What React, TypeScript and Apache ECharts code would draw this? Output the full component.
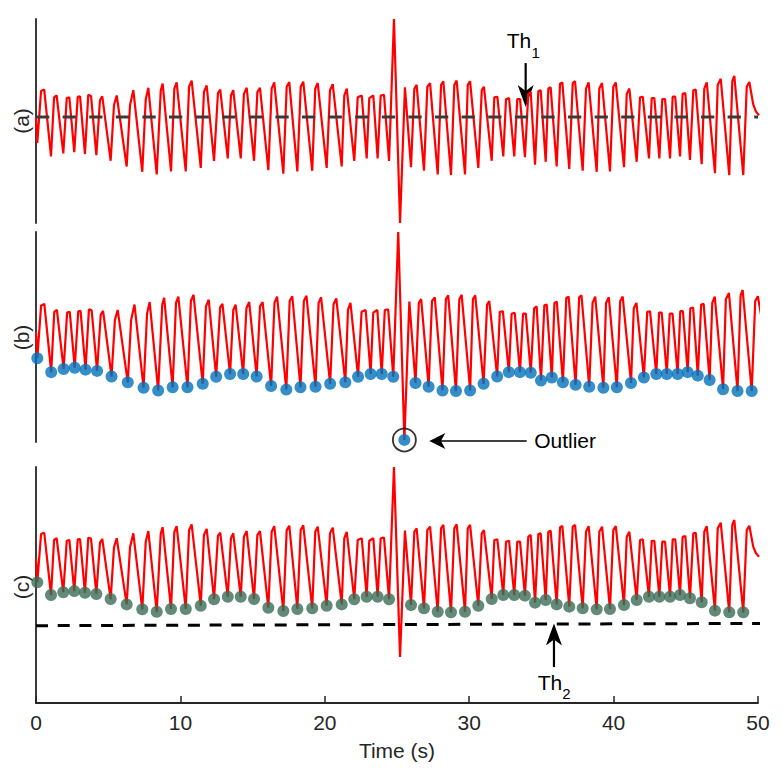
import React, { useEffect, useRef } from "react";
import * as echarts from "echarts";

// ---------------- data ----------------
const xTicks = [0, 10, 20, 30, 40, 50];
const panelLabels = ["(a)", "(b)", "(c)"];

// signal start point
const startT = [0];
const startV = [52];

// pulse feet (minima)
const troughT = [0.09, 1.04, 1.89, 2.65, 3.39, 4.18, 5.17, 6.28, 7.36, 8.36, 9.35, 10.37, 11.41, 12.33, 13.28, 14.18, 15.1, 16.09, 17.13, 18.1, 19.13, 20.13, 21.17, 22.04, 22.9, 23.66, 24.45, 25.97, 26.87, 27.82, 28.74, 29.71, 30.63, 31.56, 32.36, 33.12, 33.86, 34.56, 35.3, 36.06, 36.93, 37.86, 38.83, 39.75, 40.72, 41.6, 42.45, 43.17, 43.91, 44.6, 45.29, 46.1, 47.02, 48.01, 48.98];
const troughV = [39.3, 32.6, 34.1, 34.7, 33.8, 33.2, 30.5, 27.7, 25.1, 23.8, 25.3, 25.3, 27.0, 30.4, 31.7, 31.7, 30.5, 25.9, 24.2, 25.3, 25.6, 27.0, 27.7, 30.4, 31.7, 31.7, 30.4, 27.4, 25.6, 23.8, 23.5, 23.8, 27.0, 30.5, 32.6, 32.6, 32.3, 28.6, 30.0, 27.7, 26.5, 25.6, 25.1, 25.3, 27.4, 30.0, 31.7, 31.7, 31.7, 32.6, 30.9, 28.8, 24.4, 23.5, 23.5];

// first top point of each beat (shoulder)
const peakAT = [0.35, 1.25, 2.13, 2.89, 3.62, 4.43, 5.4, 6.51, 7.6, 8.64, 9.58, 10.6, 11.63, 12.6, 13.5, 14.4, 15.33, 16.32, 17.36, 18.33, 19.34, 20.36, 21.35, 22.28, 23.08, 23.87, 26.2, 27.1, 28.05, 28.97, 29.9, 30.87, 31.74, 32.55, 33.33, 34.09, 34.79, 35.48, 36.29, 37.17, 38.09, 39.01, 39.98, 40.91, 41.83, 42.64, 43.37, 44.09, 44.78, 45.52, 46.28, 47.21, 48.22, 49.22];
const peakAV = [64.7, 61.6, 61.2, 61.9, 62.8, 60.2, 57.7, 57.7, 60.7, 65.1, 65.9, 66.8, 64.2, 63.7, 62.5, 63.3, 64.2, 65.9, 66.8, 66.8, 65.9, 65.1, 62.5, 61.6, 61.2, 62.5, 65.9, 66.8, 67.7, 67.7, 67.7, 65.1, 61.6, 60.7, 60.7, 63.3, 64.7, 65.9, 68.3, 68.6, 65.9, 65.9, 66.8, 63.3, 61.6, 61.2, 60.7, 61.9, 63.3, 65.1, 65.9, 67.7, 69.5, 66.8];

// second top point of each beat (peak)
const peakBT = [0.57, 1.43, 2.31, 3.05, 3.81, 4.59, 5.59, 6.74, 7.78, 8.77, 9.74, 10.78, 11.82, 12.76, 13.66, 14.59, 15.51, 16.5, 17.54, 18.51, 19.51, 20.55, 21.52, 22.56, 23.36, 24.1, 26.36, 27.29, 28.21, 29.13, 30.06, 31.02, 31.95, 32.76, 33.52, 34.26, 34.95, 35.64, 36.45, 37.33, 38.27, 39.2, 40.15, 41.09, 42.02, 42.82, 43.56, 44.27, 44.97, 45.69, 46.45, 47.42, 48.36, 49.4];
const peakBV = [65.4, 62.5, 61.6, 62.1, 62.3, 62.1, 62.5, 65.1, 66.3, 68.3, 68.9, 69.8, 67.4, 65.4, 65.1, 66.3, 66.3, 68.9, 69.1, 69.3, 68.6, 68.1, 65.9, 62.5, 62.5, 62.8, 67.7, 68.6, 69.5, 69.8, 69.5, 66.8, 61.9, 61.2, 60.7, 64.2, 65.1, 66.5, 68.9, 69.5, 68.9, 68.6, 68.9, 65.9, 61.9, 61.2, 60.7, 61.9, 63.7, 65.4, 68.9, 70.7, 72.1, 69.1];

// motion artefact (spike); index 1 is the outlier minimum
const spikeT = [24.79, 25.21, 25.55];
const spikeV = [100, 0, 66.5];
const outlierIndex = 1;

// end of the record
const tailT = [49.67, 49.86, 50.07];
const tailV = [58.1, 54.6, 52.8];

// thresholds
const th1T = [0, 50];
const th1V = [52, 52];
const th2T = [0, 50.6];
const th2V = [16.5, 17.7];

// annotation arrows [tailT, tailV, tipT, tipV]
const th1Arrow = [33.91, 78.4, 33.91, 56.9];
const outlierArrow = [33.58, -0.5, 26.92, -0.5];
const th2Arrow = [35.87, -5.3, 35.87, 17.6];

// ---------------- helpers ----------------
const FONT = "'Liberation Sans', Arial, Helvetica, sans-serif";
const AXIS_COLOR = "#262626";
const FS = 21;

function zip(t: number[], v: number[]): number[][] {
  return t.map((x, i) => [x, v[i]]);
}

function buildSignal(): number[][] {
  const pts = [
    ...zip(startT, startV),
    ...zip(troughT, troughV),
    ...zip(peakAT, peakAV),
    ...zip(peakBT, peakBV),
    ...zip(spikeT, spikeV),
    ...zip(tailT, tailV),
  ];
  pts.sort((a, b) => a[0] - b[0]);
  return pts;
}

function arrowEls(p1: number[], p2: number[], headLen: number, headW: number, lw: number) {
  const dx = p2[0] - p1[0];
  const dy = p2[1] - p1[1];
  const len = Math.hypot(dx, dy) || 1;
  const ux = dx / len;
  const uy = dy / len;
  const nx = -uy;
  const ny = ux;
  const bx = p2[0] - ux * headLen;
  const by = p2[1] - uy * headLen;
  const notch = [p2[0] - ux * headLen * 0.72, p2[1] - uy * headLen * 0.72];
  return [
    {
      type: "line",
      silent: true,
      shape: { x1: p1[0], y1: p1[1], x2: notch[0], y2: notch[1] },
      style: { stroke: "#000", lineWidth: lw },
    },
    {
      type: "polygon",
      silent: true,
      shape: {
        points: [
          [p2[0], p2[1]],
          [bx + (nx * headW) / 2, by + (ny * headW) / 2],
          notch,
          [bx - (nx * headW) / 2, by - (ny * headW) / 2],
        ],
      },
      style: { fill: "#000" },
    },
  ];
}

function txt(text: string, x: number, y: number, size: number, align = "center", color = "#000", rotation = 0) {
  return {
    type: "text",
    silent: true,
    x,
    y,
    rotation,
    style: {
      text,
      fill: color,
      fontSize: size,
      fontFamily: FONT,
      align,
      verticalAlign: "middle",
    },
  };
}

// ---------------- component ----------------
export default function App() {
  const ref = useRef<HTMLDivElement>(null);

  useEffect(() => {
    if (!ref.current) return;
    const chart = echarts.init(ref.current, null, { renderer: "svg" });
    const signal = buildSignal();
    const troughs = zip(troughT, troughV);
    const outlier = [spikeT[outlierIndex], spikeV[outlierIndex]];

    const hiddenX = (gi: number, max: number) => ({
      gridIndex: gi,
      type: "value",
      min: 0,
      max,
      show: false,
    });
    const yAx = (gi: number, min: number, max: number) => ({
      gridIndex: gi,
      type: "value",
      min,
      max,
      axisLine: { show: true, onZero: false, lineStyle: { color: AXIS_COLOR, width: 1.8 } },
      axisTick: { show: false },
      axisLabel: { show: false },
      splitLine: { show: false },
    });
    const redLine = (gi: number) => ({
      type: "line",
      xAxisIndex: gi,
      yAxisIndex: gi,
      data: signal,
      symbol: "none",
      showSymbol: false,
      clip: false,
      silent: true,
      lineStyle: { color: "#ff0000", width: 2.2 },
      z: 2,
    });

    chart.setOption({
      animation: false,
      backgroundColor: "#ffffff",
      grid: [
        { left: 36, width: 722, top: 19, height: 204 },
        { left: 36, width: 722, top: 232, height: 210 },
        { left: 36, width: 722, top: 467, height: 236 },
      ],
      xAxis: [
        hiddenX(0, 50),
        hiddenX(1, 49.41),
        {
          gridIndex: 2,
          type: "value",
          min: xTicks[0],
          max: xTicks[xTicks.length - 1],
          interval: xTicks[1] - xTicks[0],
          axisLine: { show: true, onZero: false, lineStyle: { color: AXIS_COLOR, width: 1.8 } },
          axisTick: { show: true, inside: true, length: 7, lineStyle: { color: AXIS_COLOR, width: 1.5 } },
          axisLabel: { fontSize: FS, color: AXIS_COLOR, margin: 8.5, fontFamily: FONT },
          splitLine: { show: false },
          name: "Time (s)",
          nameLocation: "middle",
          nameGap: 36.5,
          nameTextStyle: { fontSize: FS, color: AXIS_COLOR, fontFamily: FONT },
        },
      ],
      yAxis: [yAx(0, 0, 100), yAx(1, -1, 100), yAx(2, -24.2, 100)],
      series: [
        redLine(0),
        {
          type: "line",
          xAxisIndex: 0,
          yAxisIndex: 0,
          data: zip(th1T, th1V),
          symbol: "none",
          clip: false,
          silent: true,
          lineStyle: { color: "#3a3a3a", width: 3, type: [13.3, 13.3] },
          z: 3,
        },
        redLine(1),
        {
          type: "scatter",
          xAxisIndex: 1,
          yAxisIndex: 1,
          data: [...troughs, outlier],
          symbol: "circle",
          symbolSize: 12,
          clip: false,
          silent: true,
          itemStyle: { color: "#0072BD" },
          z: 4,
        },
        {
          type: "scatter",
          xAxisIndex: 1,
          yAxisIndex: 1,
          data: [outlier],
          symbol: "circle",
          symbolSize: 23,
          clip: false,
          silent: true,
          itemStyle: { color: "rgba(0,0,0,0)", borderColor: "#000", borderWidth: 1.8 },
          z: 5,
        },
        redLine(2),
        {
          type: "line",
          xAxisIndex: 2,
          yAxisIndex: 2,
          data: zip(th2T, th2V),
          symbol: "none",
          clip: false,
          silent: true,
          lineStyle: { color: "#000000", width: 3, type: [12, 9.7] },
          z: 3,
        },
        {
          type: "scatter",
          xAxisIndex: 2,
          yAxisIndex: 2,
          data: troughs,
          symbol: "circle",
          symbolSize: 12,
          clip: false,
          silent: true,
          itemStyle: { color: "#3b6d56" },
          z: 4,
        },
      ],
    });

    const px = (gi: number, t: number, v: number) =>
      chart.convertToPixel({ gridIndex: gi } as any, [t, v]) as unknown as number[];

    const a1 = px(0, th1Arrow[0], th1Arrow[1]);
    const a1tip = px(0, th1Arrow[2], th1Arrow[3]);
    const a2 = px(1, outlierArrow[0], outlierArrow[1]);
    const a2tip = px(1, outlierArrow[2], outlierArrow[3]);
    const a3 = px(2, th2Arrow[0], th2Arrow[1]);
    const a3tip = px(2, th2Arrow[2], th2Arrow[3]);

    const graphics: any[] = [
      ...arrowEls(a1, a1tip, 22, 16, 2.2),
      ...arrowEls(a2, a2tip, 16, 16, 1.5),
      ...arrowEls(a3, a3tip, 22, 16, 2.2),
      txt("Th", a1[0] - 6.7, a1[1] - 23, FS),
      txt("1", a1[0] + 10, a1[1] - 11, 15),
      txt("Outlier", a2[0] + 7.5, a2[1], FS, "left"),
      txt("Th", a3[0] - 4, a3[1] + 15.5, FS),
      txt("2", a3[0] + 12.5, a3[1] + 26, 15),
      txt(panelLabels[0], 21, 121, FS, "center", AXIS_COLOR, Math.PI / 2),
      txt(panelLabels[1], 21, 337.5, FS, "center", AXIS_COLOR, Math.PI / 2),
      txt(panelLabels[2], 21, 587, FS, "center", AXIS_COLOR, Math.PI / 2),
    ];
    chart.setOption({ graphic: graphics });

    return () => chart.dispose();
  }, []);

  return (
    <div
      ref={ref}
      style={{ position: "fixed", left: 0, top: 0, width: 782, height: 774, background: "#fff" }}
    />
  );
}
